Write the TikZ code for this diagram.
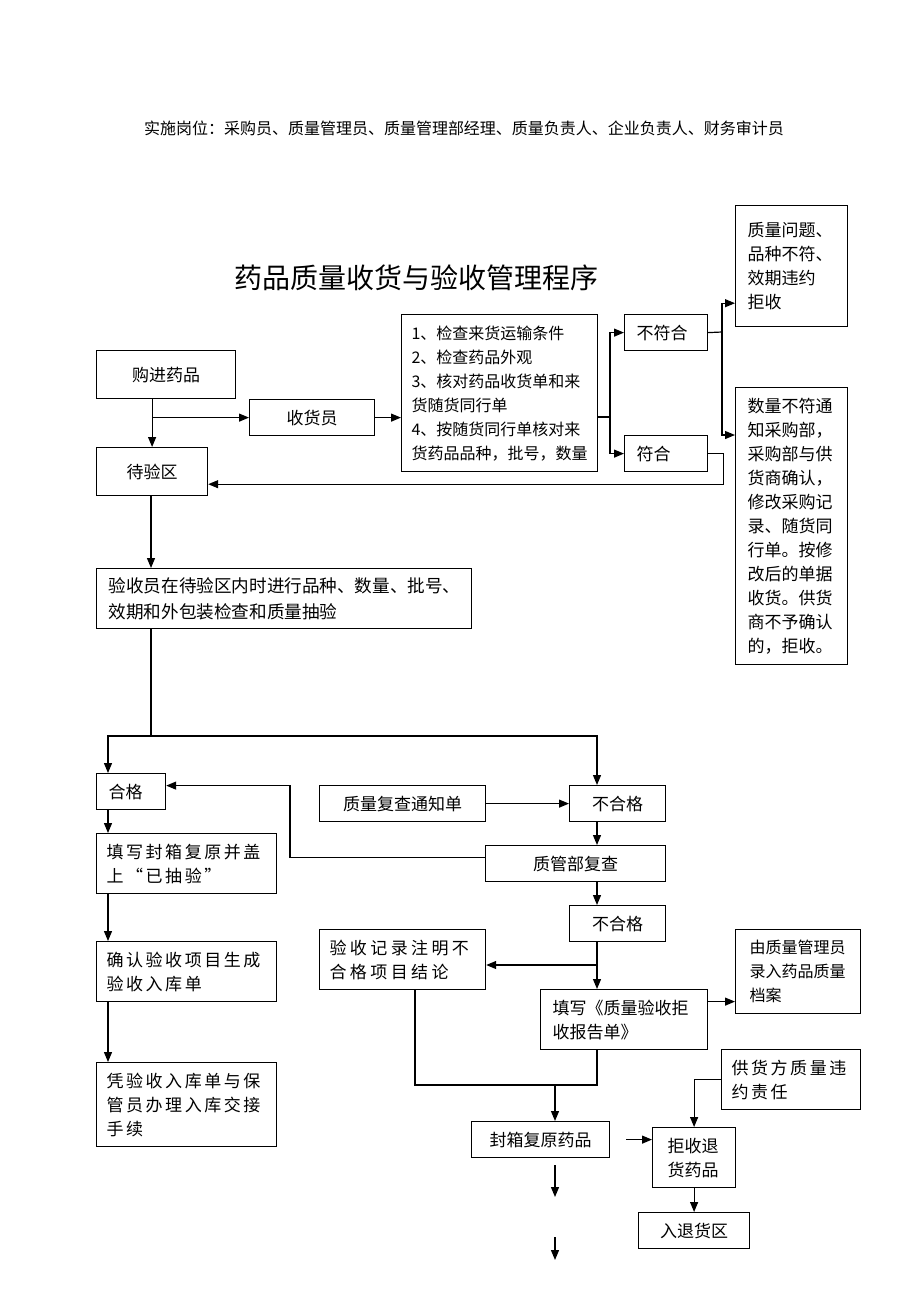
\documentclass[tikz,border=0pt]{standalone}
\usepackage{fontspec}
\setmainfont{Noto Sans CJK SC}
\newfontfamily\widefont{Noto Sans CJK SC}[LetterSpace=15]
\newfontfamily\widerfont{Noto Sans CJK SC}[LetterSpace=20]
\usepackage{tikz}
\usetikzlibrary{arrows.meta}

\tikzset{
  box/.style={draw, line width=0.6pt, anchor=north west, inner sep=0pt, align=center,
    font=\fontsize{8.5pt}{12pt}\selectfont},
  lbox/.style={box, inner xsep=6pt, align=left},
  wbox/.style={lbox, inner xsep=5pt, font=\widefont\fontsize{8.5pt}{12pt}\selectfont},
  ln/.style={line width=0.6pt},
  arr/.style={ln, -{Triangle[length=5pt,width=4pt]}}
}

\begin{document}
\begin{tikzpicture}[x=0.5pt,y=-0.5pt]
\useasboundingbox (0,0) rectangle (920,1302);

\node (post) at (464,128) {\fontsize{8pt}{10pt}\selectfont 实施岗位：采购员、质量管理员、质量管理部经理、质量负责人、企业负责人、财务审计员};
\node (title) at (416,278) {\fontsize{14pt}{16pt}\selectfont 药品质量收货与验收管理程序};

% receiving
\node[box, minimum width=69.5pt, minimum height=24pt] (buy) at (96,350) {购进药品};
\node[box, minimum width=62.5pt, minimum height=18pt] (recv) at (249,399) {收货员};
\node[lbox, inner xsep=5pt, text width=88pt, minimum height=78.5pt, font=\fontsize{8pt}{12pt}\selectfont] (check) at (401,314)
  {1、检查来货运输条件\\2、检查药品外观\\3、核对药品收货单和来\\货随货同行单\\4、按随货同行单核对来\\货药品品种，批号，数量};
\node[lbox, text width=29.5pt, minimum height=18pt] (nofit) at (624,314) {不符合};
\node[lbox, text width=29.5pt, minimum height=18pt] (fit) at (624,435) {符合};
\node[lbox, text width=44pt, minimum height=60.5pt] (rej1) at (735,205) {质量问题、\\品种不符、\\效期违约\\拒收};
\node[lbox, text width=44pt, minimum height=138.5pt] (qty) at (735,387)
  {数量不符通\\知采购部，\\采购部与供\\货商确认，\\修改采购记\\录、随货同\\行单。按修\\改后的单据\\收货。供货\\商不予确认\\的，拒收。};
\node[box, minimum width=55.5pt, minimum height=24pt] (wait) at (96,447) {待验区};
\node[lbox, text width=175.5pt, minimum height=30pt, font=\fontsize{8.8pt}{13pt}\selectfont] (insp) at (96,568)
  {验收员在待验区内时进行品种、数量、批号、\\效期和外包装检查和质量抽验};

% inspection result
\node[lbox, text width=22.5pt, minimum height=18pt] (pass) at (96,773) {合格};
\node[box, minimum width=83pt, minimum height=18pt] (notice) at (319,785) {质量复查通知单};
\node[box, minimum width=48pt, minimum height=18pt] (fail1) at (569,785) {不合格};
\node[box, minimum width=90pt, minimum height=18pt] (review) at (485,845) {质管部复查};
\node[box, minimum width=48pt, minimum height=18pt] (fail2) at (569,905) {不合格};
\node[wbox, text width=80pt, minimum height=30pt] (seal) at (96,833) {填写封箱复原并盖\\上“已抽验”};
\node[wbox, text width=80pt, minimum height=30pt] (confirm) at (96,941) {确认验收项目生成\\验收入库单};
\node[wbox, text width=80pt, minimum height=42pt] (hand) at (96,1062) {凭验收入库单与保\\管员办理入库交接\\手续};
\node[wbox, font=\widerfont\fontsize{8.5pt}{12pt}\selectfont, text width=73pt, minimum height=30pt] (record) at (319,929)
  {验收记录注明不\\合格项目结论};
\node[lbox, text width=71.5pt, minimum height=30pt] (report) at (540,989) {填写《质量验收拒\\收报告单》};
\node[lbox, inner xsep=7pt, text width=48.5pt, minimum height=42pt, font=\fontsize{8pt}{12pt}\selectfont] (archive) at (735,929)
  {由质量管理员\\录入药品质量\\档案};
\node[wbox, text width=59.5pt, minimum height=30pt] (supplier) at (721,1049) {供货方质量违\\约责任};
\node[box, minimum width=69pt, minimum height=18pt] (sealrest) at (471,1121) {封箱复原药品};
\node[lbox, inner xsep=7.5pt, text width=26.5pt, minimum height=30pt] (refuse) at (652,1127) {拒收退\\货药品};
\node[box, minimum width=55.5pt, minimum height=18pt] (retarea) at (638,1212) {入退货区};

\coordinate (split) at (610,417);
\coordinate (split2) at (722,332);
\coordinate (fork) at (151,736);
\coordinate (colL) at (108,0);
\coordinate (colR) at (597,0);
\coordinate (brk) at (597,965);
\coordinate (join) at (555,1085);
\coordinate (recx) at (415,0);
\coordinate (d1) at (555,1165);
\coordinate (d2) at (555,1197);
\coordinate (d3) at (555,1237);
\coordinate (d4) at (555,1260);

% connectors
\draw[arr] (buy.south -| wait.north) -- (wait.north);
\draw[arr] (wait.north |- recv.west) -- (recv.west);
\draw[arr] (recv.east) -- (recv.east -| check.west);
\draw[ln] (split -| check.east) -- (split);
\draw[arr] (split) |- (nofit.west);
\draw[arr] (split) |- (fit.west);
\draw[ln] (nofit.east) -- (split2);
\draw[arr] (split2) |- ([yshift=12pt]rej1.south west);
\draw[arr] (split2) |- ([yshift=-24pt]qty.north west);
\draw[arr] (fit.east) -- ++(15,0) |- ([yshift=6pt]wait.south east);
\draw[arr] (fork |- wait.south) -- (fork |- insp.north);
\draw[ln] (fork |- insp.south) -- (fork);
\draw[arr] (fork) -| (colL |- pass.north);
\draw[arr] (fork) -| (colR |- fail1.north);
\draw[arr] (notice.east) -- (fail1.west);
\draw[arr] (colR |- fail1.south) -- (colR |- review.north);
\draw[arr] ([yshift=3pt]review.west) -- ++(-195,0) |- ([yshift=3pt]pass.east);
\draw[arr] (colL |- pass.south) -- (colL |- seal.north);
\draw[arr] (colL |- seal.south) -- (colL |- confirm.north);
\draw[arr] (colL |- confirm.south) -- (colL |- hand.north);
\draw[arr] (colR |- review.south) -- (colR |- fail2.north);
\draw[arr] (colR |- fail2.south) -- (colR |- report.north);
\draw[arr] (brk) -- (brk -| record.east);
\path ([yshift=9pt]report.east) coordinate (r1);
\draw[arr] (r1) -- (r1 -| archive.west);
\draw[ln] (colR |- report.south) -- (colR |- join) -- (recx |- join) -- (recx |- record.south);
\draw[arr] (join) -- (join |- sealrest.north);
\draw[arr] ([xshift=8pt]sealrest.east) -- (sealrest.east -| refuse.west);
\draw[arr] (supplier.west) -| (refuse.north);
\draw[arr] (refuse.south) -- (retarea.north);
\draw[arr] (d1) -- (d2);
\draw[arr] (d3) -- (d4);
\end{tikzpicture}
\end{document}
